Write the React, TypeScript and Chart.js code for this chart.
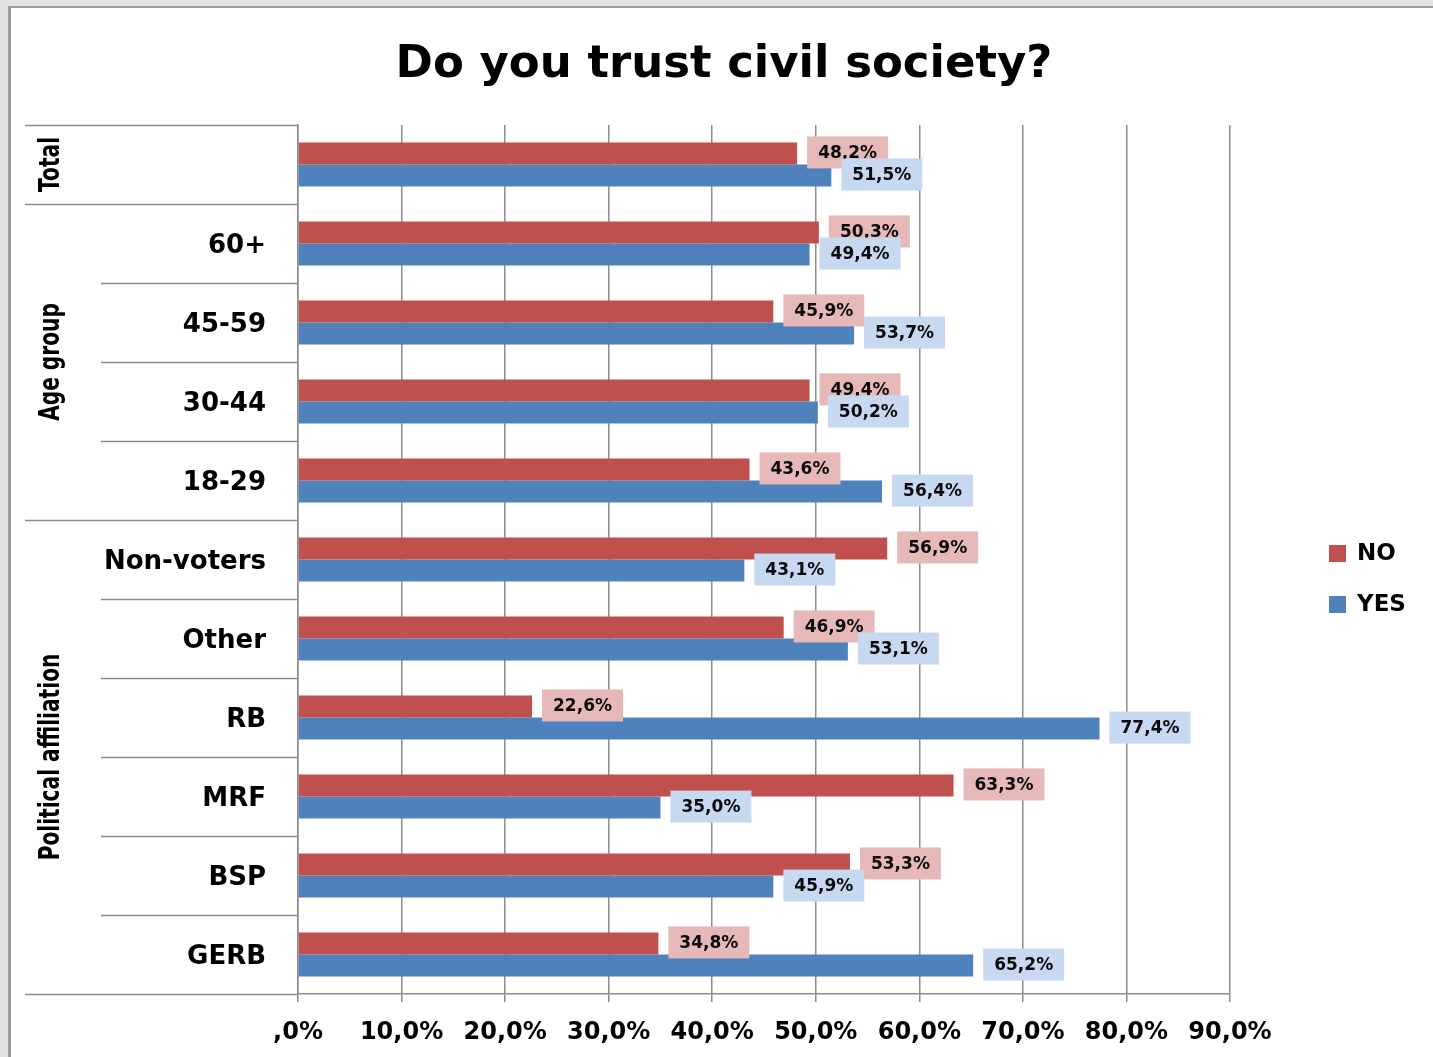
import { useEffect, useRef } from "react";
import { Chart, registerables } from "chart.js";

Chart.register(...registerables);

const titleText = "Do you trust civil society?";
const categories = ["Total", "60+", "45-59", "30-44", "18-29", "Non-voters", "Other", "RB", "MRF", "BSP", "GERB"];
const noValues = [48.2, 50.3, 45.9, 49.4, 43.6, 56.9, 46.9, 22.6, 63.3, 53.3, 34.8];
const yesValues = [51.5, 49.4, 53.7, 50.2, 56.4, 43.1, 53.1, 77.4, 35.0, 45.9, 65.2];
const groupLabels = ["Total", "Age group", "Political affiliation"];
const groupSizes = [1, 4, 6];
const seriesNames = ["NO", "YES"];
const seriesColors = ["#C0504D", "#4F81BD"];
const labelBgColors = ["#E6B9B8", "#C6D9F1"];
const xMin = 0;
const xMax = 90;
const xStep = 10;

const FONT = '"DejaVu Sans", sans-serif';
const LINE = "#8c8c8c";

const fmtPct = (v: number) => {
  const s = v.toFixed(1).replace(".", ",");
  return (s.startsWith("0,") ? s.slice(1) : s) + "%";
};

const customPlugin = {
  id: "custom",
  afterDatasetsDraw(chart: any) {
    const ctx = chart.ctx;
    ctx.save();
    ctx.font = `bold 17px ${FONT}`;
    ctx.textAlign = "center";
    ctx.textBaseline = "middle";
    chart.data.datasets.forEach((ds: any, i: number) => {
      const meta = chart.getDatasetMeta(i);
      meta.data.forEach((bar: any, j: number) => {
        const text = fmtPct(ds.data[j]);
        const w = ctx.measureText(text).width + 22;
        const h = 32;
        const x0 = bar.x + 10;
        const y0 = bar.y - 1 - h / 2;
        ctx.fillStyle = labelBgColors[i];
        ctx.fillRect(x0, y0, w, h);
        ctx.fillStyle = "#0a0a0a";
        ctx.fillText(text, x0 + w / 2, bar.y);
      });
    });
    ctx.restore();
  },
  afterDraw(chart: any) {
    const ctx = chart.ctx;
    const area = chart.chartArea;
    const n = categories.length;
    const step = (area.bottom - area.top) / n;
    ctx.save();

    // category box lines
    ctx.strokeStyle = LINE;
    ctx.lineWidth = 1.5;
    let idx = 0;
    const groupStarts: number[] = [];
    groupSizes.forEach((size) => {
      groupStarts.push(idx);
      idx += size;
    });
    for (let k = 0; k <= n; k++) {
      const y = Math.round(area.top + k * step) + 0.5;
      const isGroup = k === n || groupStarts.includes(k);
      ctx.beginPath();
      ctx.moveTo(isGroup ? 25 : 101, y);
      ctx.lineTo(area.left, y);
      ctx.stroke();
    }

    // inner labels
    ctx.fillStyle = "#000";
    ctx.font = `bold 26px ${FONT}`;
    ctx.textAlign = "right";
    ctx.textBaseline = "alphabetic";
    categories.forEach((c, k) => {
      if (k === 0) return;
      const y = area.top + (k + 0.5) * step;
      ctx.fillText(c, 266, y + 9);
    });

    // group labels (rotated)
    groupLabels.forEach((g, gi) => {
      const s = groupStarts[gi];
      const cy = area.top + (s + groupSizes[gi] / 2) * step;
      ctx.save();
      ctx.translate(52, cy);
      ctx.rotate(-Math.PI / 2);
      ctx.scale(0.72, 1);
      ctx.font = `bold 28px ${FONT}`;
      ctx.textAlign = "center";
      ctx.textBaseline = "middle";
      ctx.fillText(g, 0, 0);
      ctx.restore();
    });

    // title
    ctx.font = `bold 45px ${FONT}`;
    ctx.textAlign = "center";
    ctx.textBaseline = "alphabetic";
    ctx.fillText(titleText, 724, 77);

    // legend
    ctx.font = `bold 23px ${FONT}`;
    ctx.textAlign = "left";
    ctx.textBaseline = "middle";
    seriesNames.forEach((name, i) => {
      const cy = 553 + i * 51;
      ctx.fillStyle = seriesColors[i];
      ctx.fillRect(1329, cy - 8, 17, 17);
      ctx.fillStyle = "#000";
      ctx.fillText(name, 1357, cy + 1);
    });

    ctx.restore();
  },
};

export default function App() {
  const ref = useRef<HTMLCanvasElement>(null);
  useEffect(() => {
    const canvas = ref.current;
    if (!canvas) return;
    const chart = new Chart(canvas, {
      type: "bar",
      data: {
        labels: categories,
        datasets: [
          {
            label: seriesNames[0],
            data: noValues,
            backgroundColor: seriesColors[0],
            categoryPercentage: 0.56,
            barPercentage: 1,
          },
          {
            label: seriesNames[1],
            data: yesValues,
            backgroundColor: seriesColors[1],
            categoryPercentage: 0.56,
            barPercentage: 1,
          },
        ],
      },
      options: {
        indexAxis: "y",
        responsive: false,
        animation: false,
        devicePixelRatio: 1,
        layout: { padding: { top: 125, right: 203, left: 0, bottom: 0 } },
        plugins: {
          legend: { display: false },
          title: { display: false },
          tooltip: { enabled: false },
        },
        scales: {
          x: {
            min: xMin,
            max: xMax,
            ticks: {
              stepSize: xStep,
              autoSkip: false,
              maxRotation: 0,
              color: "#000",
              padding: 16,
              font: { family: FONT, size: 24, weight: "bold" },
              callback: (v: any) => fmtPct(Number(v)),
            },
            grid: { color: LINE, lineWidth: 1.5, tickLength: 8 },
            border: { display: true, color: LINE, width: 1.5 },
            afterFit: (s: any) => {
              s.height = 63;
            },
          },
          y: {
            ticks: { display: false },
            grid: { display: false },
            border: { display: true, color: LINE, width: 1.5 },
            afterFit: (s: any) => {
              s.width = 298;
            },
          },
        },
      } as any,
      plugins: [customPlugin],
    });
    return () => chart.destroy();
  }, []);

  return (
    <div
      style={{
        position: "fixed",
        left: 0,
        top: 0,
        width: 1433,
        height: 1057,
        background: "#e2e2e2",
        overflow: "hidden",
      }}
    >
      <div
        style={{
          position: "absolute",
          left: 8,
          top: 6,
          right: -10,
          bottom: -10,
          background: "#fff",
          borderLeft: "3px solid #9b9b9b",
          borderTop: "2px solid #9b9b9b",
        }}
      />
      <canvas
        ref={ref}
        width={1433}
        height={1057}
        style={{ position: "absolute", left: 0, top: 0, width: 1433, height: 1057 }}
      />
    </div>
  );
}
